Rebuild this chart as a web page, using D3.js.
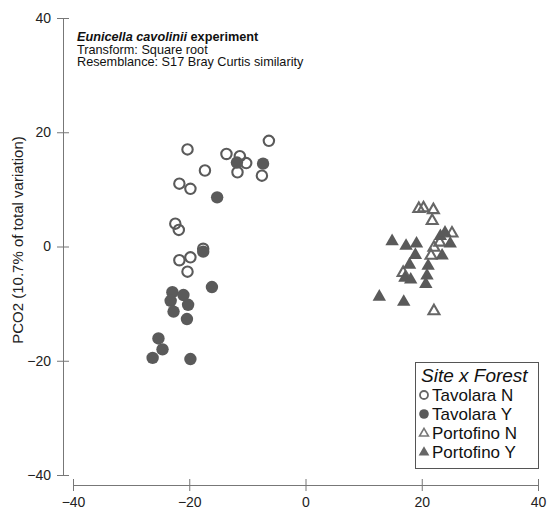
<!DOCTYPE html>
<html>
<head>
<meta charset="utf-8">
<script src="https://cdn.jsdelivr.net/npm/d3@7"></script>
<style>
  body { margin: 0; background: #fff; }
  svg { font-family: "Liberation Sans", Arial, sans-serif; }
</style>
</head>
<body>
<svg width="547" height="510"></svg>
<script>
// PCO scores, [PCO1, PCO2]
const tavolaraN = [
  [-20.3, 17.0], [-17.3, 13.3], [-21.7, 11.0], [-19.8, 10.1], [-13.6, 16.2],
  [-11.3, 15.8], [-10.2, 14.6], [-11.7, 13.0], [-7.5, 12.4], [-6.3, 18.5],
  [-22.4, 4.0], [-21.8, 2.9], [-17.6, -0.4], [-21.7, -2.4], [-19.8, -1.9],
  [-20.3, -4.4]
];
const tavolaraY = [
  [-11.8, 14.7], [-7.3, 14.5], [-15.2, 8.6], [-17.6, -0.9], [-16.1, -7.1],
  [-22.9, -8.0], [-21.0, -8.5], [-23.2, -9.5], [-20.2, -10.2], [-22.7, -11.4],
  [-20.4, -12.7], [-25.3, -16.1], [-24.6, -18.0], [-26.3, -19.5], [-19.8, -19.7]
];
const portofinoN = [
  [19.5, 6.6], [20.3, 6.7], [22.0, 6.4], [21.8, 4.5], [25.2, 2.3],
  [22.1, -0.2], [23.1, 0.7], [16.8, -4.6], [22.1, -11.3], [21.6, -1.6]
];
const portofinoY = [
  [14.9, 0.9], [17.3, 0.1], [19.1, 0.5], [18.9, -1.5], [23.2, 1.8],
  [24.9, 0.5], [23.5, -1.6], [17.9, -3.2], [21.1, -3.4], [20.9, -5.1],
  [20.7, -6.6], [17.1, -5.5], [18.1, -5.8], [12.7, -8.8], [16.9, -9.7],
  [24.0, 2.4]
];

const groups = ["Tavolara N", "Tavolara Y", "Portofino N", "Portofino Y"];
const xTicks = [-40, -20, 0, 20, 40];
const yTicks = [-40, -20, 0, 20, 40];
const headerLines = ["Transform: Square root", "Resemblance: S17 Bray Curtis similarity"];

const ink = "#5a5a5a";
const svg = d3.select("svg");

// scales
const x = d3.scaleLinear().domain([-40, 40]).range([73, 538]);
const y = d3.scaleLinear().domain([-40, 40]).range([475, 18]);

// Y axis (ticks cross the line)
const yAxis = svg.append("g")
  .attr("transform", "translate(63,0)")
  .call(d3.axisLeft(y).tickValues(yTicks).tickSize(6).tickSizeOuter(0).tickPadding(6));
yAxis.selectAll(".tick line").attr("x1", 6);

// X axis, below the y axis end like PRIMER does
const xAxis = svg.append("g")
  .attr("transform", "translate(0,485)")
  .call(d3.axisBottom(x).tickValues(xTicks).tickSize(6).tickSizeOuter(0).tickPadding(6));
xAxis.selectAll(".tick line").attr("y1", -6);

svg.selectAll(".domain, .tick line").attr("stroke", "#777").attr("stroke-width", 1);
svg.selectAll(".tick text")
  .attr("font-size", "14px")
  .attr("fill", "#222")
  .attr("font-family", "Liberation Sans, Arial, sans-serif");

// Y label
svg.append("text")
  .attr("transform", "translate(23,240) rotate(-90)")
  .attr("text-anchor", "middle")
  .attr("font-size", "15px")
  .attr("fill", "#222")
  .text("PCO2 (10.7% of total variation)");

// header
const head = svg.append("text")
  .attr("x", 77).attr("y", 41)
  .attr("font-size", "12.7px")
  .attr("font-weight", "bold")
  .attr("fill", "#111");
head.append("tspan").attr("font-style", "italic").text("Eunicella cavolinii");
head.append("tspan").text(" experiment");
headerLines.forEach((t, i) => {
  svg.append("text")
    .attr("x", 77).attr("y", 53.7 + 12.7 * i)
    .attr("font-size", "12.7px")
    .attr("fill", "#111")
    .text(t);
});

// points
const plot = svg.append("g");
const tri = d3.symbol().type(d3.symbolTriangle);

plot.selectAll("circle.tn").data(tavolaraN).enter().append("circle")
  .attr("cx", d => x(d[0])).attr("cy", d => y(d[1]))
  .attr("r", 5.2)
  .attr("fill", "none").attr("stroke", ink).attr("stroke-width", 2.1);

plot.selectAll("circle.ty").data(tavolaraY).enter().append("circle")
  .attr("cx", d => x(d[0])).attr("cy", d => y(d[1]))
  .attr("r", 6.2)
  .attr("fill", ink);

plot.selectAll("path.pn").data(portofinoN).enter().append("path")
  .attr("transform", d => `translate(${x(d[0])},${y(d[1])})`)
  .attr("d", tri.size(52)())
  .attr("fill", "none").attr("stroke", "#666").attr("stroke-width", 2.1);

plot.selectAll("path.py").data(portofinoY).enter().append("path")
  .attr("transform", d => `translate(${x(d[0])},${y(d[1])})`)
  .attr("d", tri.size(78)())
  .attr("fill", ink);

// legend
const legend = svg.append("g").attr("transform", "translate(415,362)");
legend.append("rect")
  .attr("x", 0.5).attr("y", 0.5).attr("width", 123).attr("height", 106)
  .attr("fill", "#fff").attr("stroke", "#555").attr("stroke-width", 1);
legend.append("text")
  .attr("x", 6).attr("y", 19.5)
  .attr("font-size", "19px").attr("font-style", "italic").attr("fill", "#111")
  .text("Site x Forest");

groups.forEach((g, i) => {
  const cy = 33 + 19 * i;
  const item = legend.append("g").attr("transform", `translate(9,${cy})`);
  if (i === 0) item.append("circle").attr("r", 4).attr("fill", "none").attr("stroke", "#666").attr("stroke-width", 1.8);
  if (i === 1) item.append("circle").attr("r", 4.8).attr("fill", ink);
  if (i === 2) item.append("path").attr("d", tri.size(34)()).attr("transform", "translate(0,0.5)").attr("fill", "none").attr("stroke", "#777").attr("stroke-width", 1.6);
  if (i === 3) item.append("path").attr("d", tri.size(50)()).attr("transform", "translate(0,0.5)").attr("fill", "#666");
  legend.append("text")
    .attr("x", 17).attr("y", cy + 6)
    .attr("font-size", "17px").attr("fill", "#111")
    .text(g);
});
</script>
</body>
</html>
